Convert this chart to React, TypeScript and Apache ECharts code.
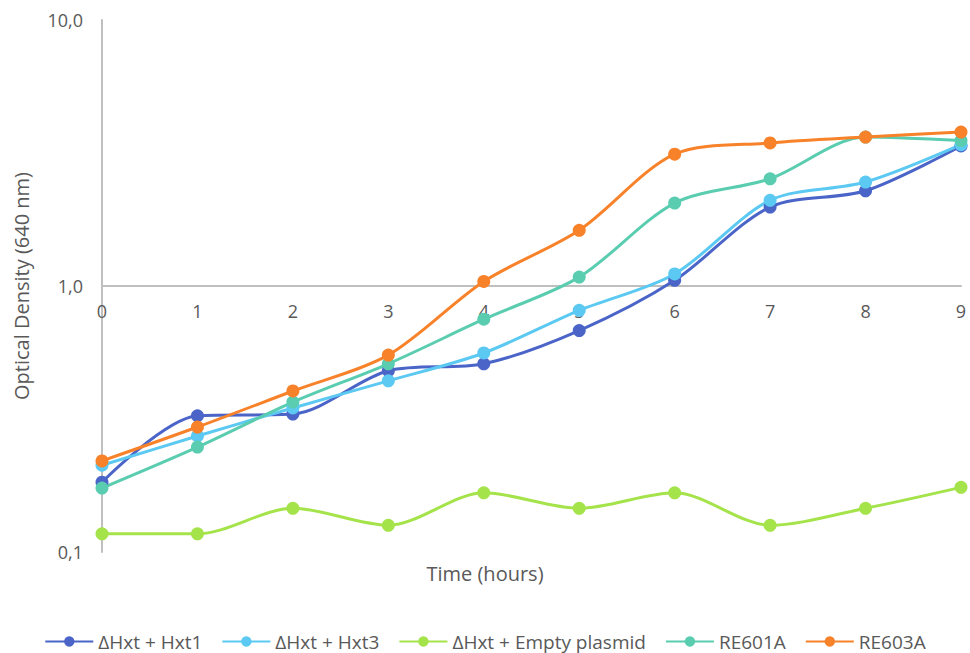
import React, { useEffect, useRef } from "react";
import * as echarts from "echarts";

const hours = ["0", "1", "2", "3", "4", "5", "6", "7", "8", "9"];
const hxt1 = [0.183, 0.325, 0.33, 0.48, 0.51, 0.68, 1.05, 1.98, 2.28, 3.36];
const hxt3 = [0.212, 0.273, 0.348, 0.44, 0.56, 0.81, 1.11, 2.1, 2.46, 3.4];
const emptyPlasmid = [0.117, 0.117, 0.146, 0.126, 0.167, 0.146, 0.167, 0.126, 0.146, 0.175];
const re601a = [0.174, 0.248, 0.366, 0.51, 0.75, 1.08, 2.05, 2.53, 3.63, 3.52];
const re603a = [0.22, 0.295, 0.403, 0.55, 1.04, 1.62, 3.13, 3.45, 3.63, 3.79];

const seriesNames = ["ΔHxt + Hxt1", "ΔHxt + Hxt3", "ΔHxt + Empty plasmid", "RE601A", "RE603A"];
const seriesData = [hxt1, hxt3, emptyPlasmid, re601a, re603a];
const colors = ["#4A64C8", "#5BC9F1", "#A5E34B", "#5ACDB0", "#F8822A"];

const FONT = "'Open Sans', sans-serif";
const GRAY = "#595959";

export default function App() {
  const ref = useRef<HTMLDivElement>(null);
  useEffect(() => {
    if (!ref.current) return;
    const chart = echarts.init(ref.current, null, { renderer: "svg" });
    const gridTop = 20;
    const gridHeight = 532;
    const half = gridHeight / 2;
    chart.setOption({
      animation: false,
      backgroundColor: "#ffffff",
      grid: { left: 102, right: 9, top: gridTop, height: gridHeight },
      xAxis: {
        type: "category",
        data: hours,
        boundaryGap: false,
        position: "bottom",
        offset: -half,
        axisLine: { show: true, lineStyle: { color: "#BFBFBF", width: 2 } },
        axisTick: { show: false },
        axisLabel: { color: GRAY, fontFamily: FONT, fontSize: 18, margin: 16 },
        splitLine: { show: false },
      },
      yAxis: {
        type: "log",
        logBase: 10,
        min: 0.1,
        max: 10,
        axisLine: { show: true, lineStyle: { color: "#BFBFBF", width: 2 } },
        axisTick: { show: false },
        splitLine: { show: false },
        minorSplitLine: { show: false },
        axisLabel: {
          color: GRAY,
          fontFamily: FONT,
          fontSize: 18,
          margin: 19,
          formatter: (v: number) => v.toFixed(1).replace(".", ","),
        },
        name: "Optical Density (640 nm)",
        nameLocation: "middle",
        nameGap: 71,
        nameTextStyle: { color: GRAY, fontFamily: FONT, fontSize: 20 },
      },
      legend: {
        top: 627,
        left: "center",
        itemWidth: 48,
        itemHeight: 13,
        itemGap: 19,
        textStyle: { color: GRAY, fontFamily: FONT, fontSize: 19 },
        data: seriesNames,
      },
      graphic: [
        {
          type: "text",
          left: "center",
          top: 563,
          style: { text: "Time (hours)", fill: GRAY, font: `20px ${FONT}` },
        },
      ],
      series: seriesNames.map((name, i) => ({
        name,
        type: "line",
        data: seriesData[i],
        smooth: 0.3,
        symbol: "circle",
        symbolSize: 13,
        color: colors[i],
        lineStyle: { width: 3, color: colors[i] },
        itemStyle: { color: colors[i] },
      })),
    });
    return () => chart.dispose();
  }, []);
  return (
    <div
      ref={ref}
      style={{ position: "fixed", left: 0, top: 0, width: 970, height: 653 }}
    />
  );
}
